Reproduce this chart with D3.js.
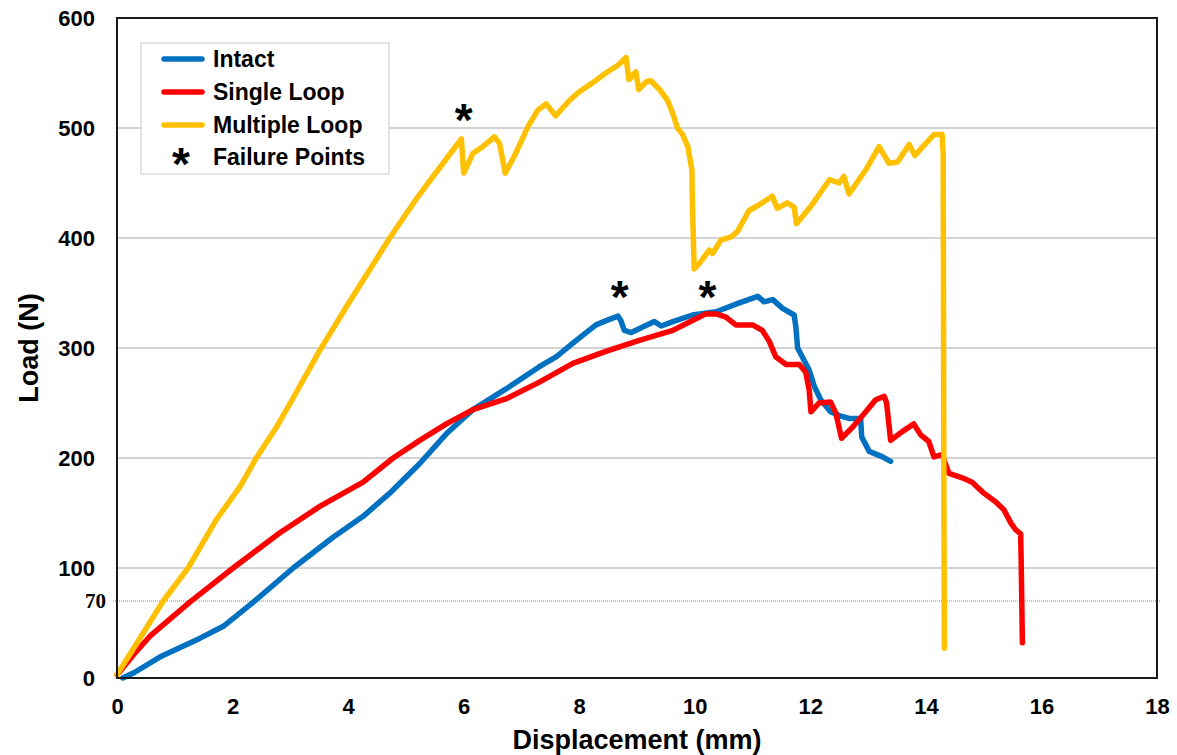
<!DOCTYPE html>
<html>
<head>
<meta charset="utf-8">
<script src="https://cdn.jsdelivr.net/npm/d3@7"></script>
<style>
  html, body { margin: 0; padding: 0; background: #fff; }
  svg { display: block; }
</style>
</head>
<body>
<svg id="chart" width="1177" height="755"></svg>
<script>
// ---------- DATA ----------
const seriesNames = ["Intact", "Single Loop", "Multiple Loop"];
const seriesColors = ["#0070C0", "#FF0000", "#FFC000"];

const intactX = [0.1,0.3,0.74,1.43,1.84,2.36,3.05,3.74,4.26,4.72,5.24,5.70,6.16,6.74,7.31,7.60,7.95,8.29,8.52,8.67,8.72,8.78,8.90,9.10,9.30,9.42,9.62,9.96,10.37,10.77,11.09,11.20,11.35,11.52,11.72,11.75,11.78,11.86,11.98,12.07,12.18,12.35,12.53,12.67,12.87,12.89,13.02,13.25,13.39];
const intactY = [0,5,19,36,47,69,100,128,147,168,195,222,244,263,283,292,307,321,326,329,325,316,314,319,324,320,324,330,333,341,347,342,344,336,330,319,300,292,280,265,253,242,238,236,236,219,206,201,197];

const singleX = [0,0.05,0.3,0.57,1.26,2.01,2.82,3.51,4.26,4.78,5.24,5.70,6.16,6.74,7.31,7.89,8.46,9.04,9.62,9.96,10.19,10.37,10.54,10.71,11.0,11.17,11.29,11.40,11.58,11.81,11.92,11.98,12.01,12.15,12.35,12.44,12.54,12.73,12.96,13.13,13.28,13.32,13.39,13.59,13.79,13.91,14.05,14.14,14.28,14.40,14.63,14.80,14.98,15.21,15.35,15.47,15.55,15.64,15.65,15.67];
const singleY = [3,6,22,38,69,100,132,156,178,200,216,231,244,254,269,286,297,307,316,325,331,331,328,321,321,316,306,292,285,285,278,262,242,250,251,241,218,228,242,253,256,250,216,224,231,221,215,201,203,186,182,178,169,160,153,141,135,131,104,32];

const multiX = [0,0.3,0.8,1.23,1.72,2.13,2.41,2.76,3.0,3.5,4.0,4.72,5.2,5.6,5.96,6.0,6.16,6.33,6.53,6.62,6.72,6.91,7.11,7.28,7.43,7.59,7.83,8.0,8.23,8.46,8.67,8.81,8.86,8.98,9.03,9.16,9.24,9.39,9.53,9.62,9.70,9.79,9.88,9.95,9.96,9.99,10.08,10.25,10.31,10.45,10.63,10.74,10.94,11.11,11.34,11.43,11.60,11.72,11.76,12.04,12.33,12.50,12.58,12.67,12.96,13.19,13.36,13.51,13.71,13.81,14.0,14.14,14.28,14.30,14.31,14.32];
const multiY = [3,28,70,100,144,174,200,228,250,297,340,400,437,465,490,459,477,483,492,486,459,478,501,516,522,511,525,533,541,550,557,564,544,551,535,542,543,535,525,513,500,494,483,462,428,372,377,389,386,398,401,406,425,430,438,427,432,428,413,431,453,450,456,440,462,483,468,469,485,475,486,494,494,477,200,27];

const failureX = [6.0, 8.7, 10.22];
const failureY = [514, 353, 353];

const xTicks = [0,2,4,6,8,10,12,14,16,18];
const yTicks = [0,100,200,300,400,500,600];
const yRefLine = 70;

const xTitle = "Displacement (mm)";
const yTitle = "Load (N)";
const legendStarLabel = "Failure Points";

// ---------- LAYOUT ----------
const svg = d3.select("#chart");
const L = 117, R = 1157, T = 18, B = 678;
const x = d3.scaleLinear().domain([0, 18]).range([L, R]);
const y = d3.scaleLinear().domain([0, 600]).range([B, T]);
const font = "'Liberation Sans', Arial, sans-serif";

// gridlines
svg.append("g").selectAll("line").data(yTicks.filter(d => d > 0 && d < 600)).join("line")
  .attr("x1", L).attr("x2", R).attr("y1", d => y(d)).attr("y2", d => y(d))
  .attr("stroke", "#a8a8a8").attr("stroke-width", 1.2);

// 70 dotted reference line
svg.append("line")
  .attr("x1", L - 4).attr("x2", R + 3).attr("y1", y(yRefLine)).attr("y2", y(yRefLine))
  .attr("stroke", "#8a8a8a").attr("stroke-width", 1).attr("stroke-dasharray", "1,1");

// series
const series = [
  {xs: intactX, ys: intactY},
  {xs: singleX, ys: singleY},
  {xs: multiX, ys: multiY}
];
const line = d3.line().x(d => x(d[0])).y(d => y(d[1])).curve(d3.curveLinear);
series.forEach((s, i) => {
  const pts = s.xs.map((v, k) => [v, s.ys[k]]);
  svg.append("path").datum(pts)
    .attr("d", line)
    .attr("fill", "none")
    .attr("stroke", seriesColors[i])
    .attr("stroke-width", 5.5)
    .attr("stroke-linejoin", "round")
    .attr("stroke-linecap", "round");
});

// frame
svg.append("rect").attr("x", L).attr("y", T).attr("width", R - L).attr("height", B - T)
  .attr("fill", "none").attr("stroke", "#1a1a1a").attr("stroke-width", 2);

// axes (labels only, via d3 axes)
const xAxis = d3.axisBottom(x).tickValues(xTicks).tickSize(0).tickPadding(20).tickFormat(d3.format("d"));
const gx = svg.append("g").attr("transform", `translate(0,${B})`).call(xAxis);
gx.select(".domain").remove();
gx.selectAll("text").attr("font-family", font).attr("font-weight", "bold")
  .attr("font-size", 22).attr("fill", "#000");

const yAxis = d3.axisLeft(y).tickValues(yTicks).tickSize(0).tickPadding(22).tickFormat(d3.format("d"));
const gy = svg.append("g").attr("transform", `translate(${L},0)`).call(yAxis);
gy.select(".domain").remove();
gy.selectAll("text").attr("font-family", font).attr("font-weight", "bold")
  .attr("font-size", 22).attr("fill", "#000");

// 70 label
svg.append("text").attr("x", L - 11).attr("y", y(yRefLine)).attr("dy", "0.35em")
  .attr("text-anchor", "end").attr("font-family", "'Liberation Serif', 'Times New Roman', serif")
  .attr("font-weight", "bold").attr("font-size", 21).text(String(yRefLine));

// axis titles
svg.append("text").attr("x", (L + R) / 2).attr("y", 749).attr("text-anchor", "middle")
  .attr("font-family", font).attr("font-weight", "bold").attr("font-size", 27).text(xTitle);
svg.append("text").attr("transform", `translate(38,${(T + B) / 2}) rotate(-90)`)
  .attr("text-anchor", "middle").attr("font-family", font).attr("font-weight", "bold")
  .attr("font-size", 27).text(yTitle);

// failure stars
svg.append("g").selectAll("text").data(failureX.map((v, i) => [v, failureY[i]])).join("text")
  .attr("x", d => x(d[0])).attr("y", d => y(d[1])).attr("dy", "0.5em")
  .attr("text-anchor", "middle").attr("font-family", font).attr("font-weight", "bold")
  .attr("font-size", 46).text("*");

// legend
const lg = svg.append("g");
lg.append("rect").attr("x", 141).attr("y", 43).attr("width", 248).attr("height", 131)
  .attr("fill", "#fff").attr("stroke", "#c8c8c8").attr("stroke-width", 1);
const rows = [59, 92, 125, 157];
seriesNames.forEach((n, i) => {
  lg.append("line").attr("x1", 164).attr("x2", 202).attr("y1", rows[i]).attr("y2", rows[i])
    .attr("stroke", seriesColors[i]).attr("stroke-width", 5.5).attr("stroke-linecap", "round");
  lg.append("text").attr("x", 213).attr("y", rows[i]).attr("dy", "0.36em")
    .attr("font-family", font).attr("font-weight", "bold").attr("font-size", 23).text(n);
});
lg.append("text").attr("x", 181).attr("y", rows[3]).attr("dy", "0.5em").attr("text-anchor", "middle")
  .attr("font-family", font).attr("font-weight", "bold").attr("font-size", 46).text("*");
lg.append("text").attr("x", 213).attr("y", rows[3]).attr("dy", "0.36em")
  .attr("font-family", font).attr("font-weight", "bold").attr("font-size", 23).text(legendStarLabel);
</script>
</body>
</html>
